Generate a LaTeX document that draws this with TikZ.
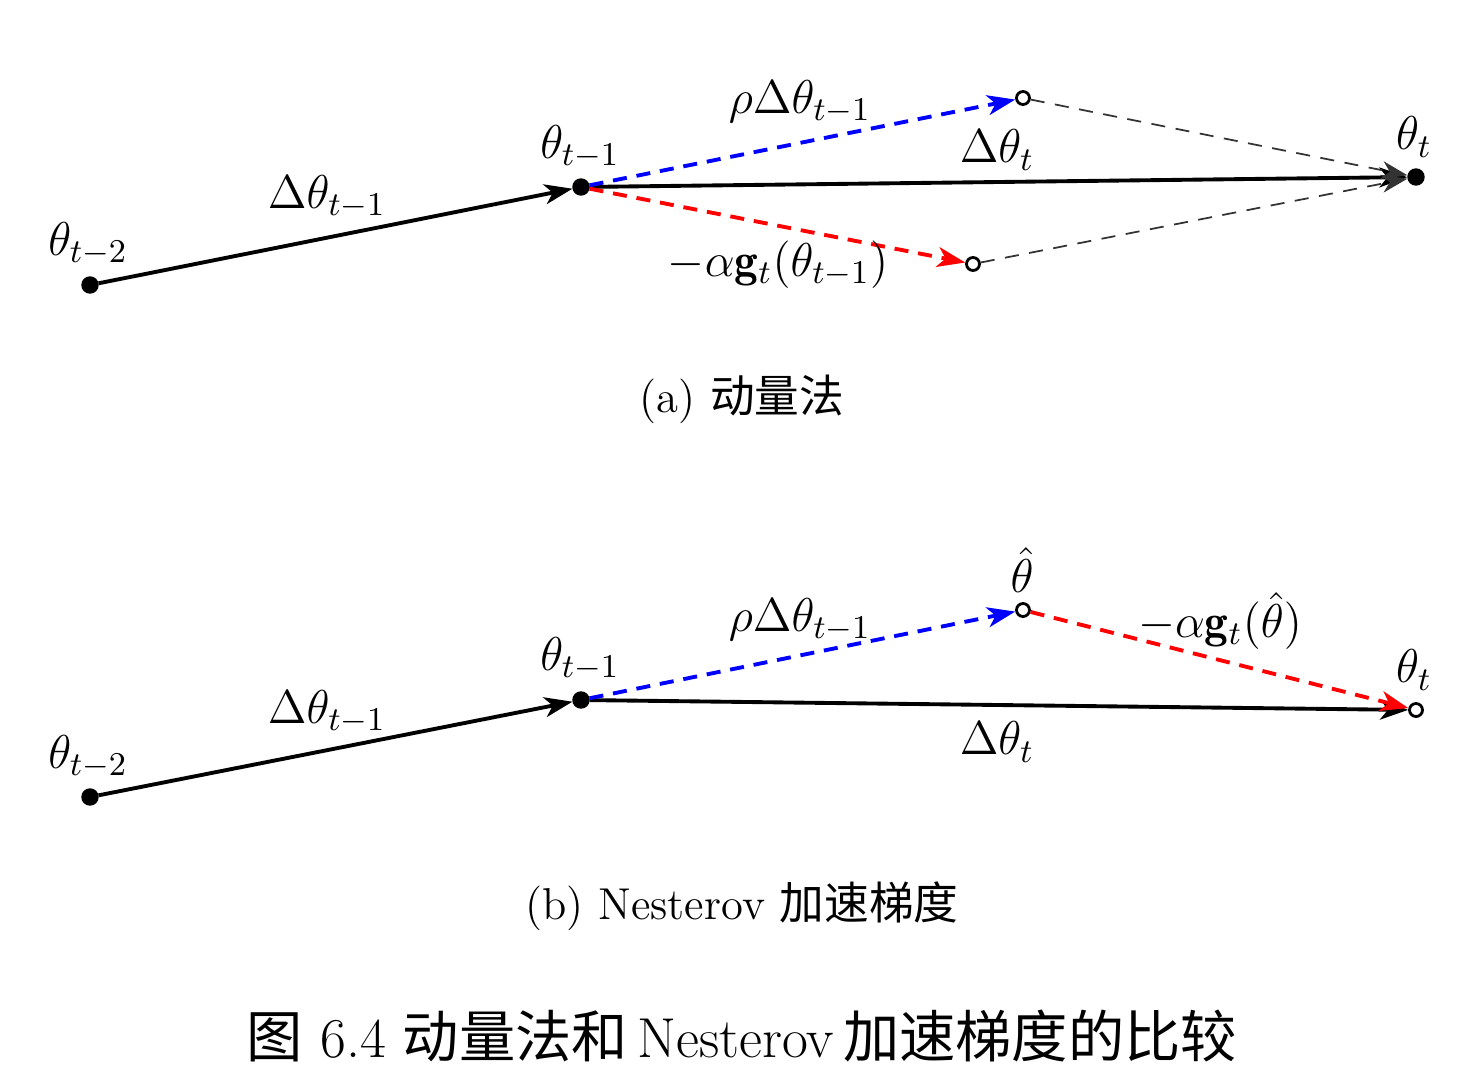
\RequirePackage{fix-cm}
\documentclass[tikz,border=0pt]{standalone}
\usepackage{fontspec}
\newfontfamily\cjk{Noto Sans CJK SC}
\usetikzlibrary{arrows.meta}
\tikzset{
  ptdot/.style={circle,fill=black,draw=black,inner sep=0pt,minimum size=0.16cm},
  hole/.style={circle,fill=white,draw=black,line width=0.8pt,inner sep=0pt,minimum size=0.13cm},
  lbl/.style={inner sep=0pt,font=\fontsize{13.5}{16}\selectfont},
  subcap/.style={inner sep=0pt,font=\fontsize{12.7}{15}\selectfont},
  bigcap/.style={inner sep=0pt,font=\fontsize{16}{20}\selectfont},
  mainarr/.style={line width=1.1pt,-{Stealth[length=0.28cm,width=0.2cm,inset=0.08cm]}},
  bluearr/.style={line width=1.1pt,blue,dash pattern=on 4pt off 2.8pt,-{Stealth[length=0.28cm,width=0.2cm,inset=0.08cm]}},
  redarr/.style={line width=1.1pt,red,dash pattern=on 4pt off 2.8pt,-{Stealth[length=0.28cm,width=0.2cm,inset=0.08cm]}},
  grayarr/.style={line width=0.5pt,black!80,dash pattern=on 4pt off 3pt,-{Stealth[length=0.26cm,width=0.18cm,inset=0.08cm]}},
}
\begin{document}
\begin{tikzpicture}[x=0.01cm,y=-0.01cm]
\useasboundingbox (0,0) rectangle (1466,1078);
% ---------- (a) ----------
\node[ptdot] (a0) at (90,285) {};
\node[ptdot] (a1) at (581,187) {};
\node[ptdot] (at) at (1416,177) {};
\node[hole] (au) at (1023,98) {};
\node[hole] (ad) at (973,264) {};
\draw[mainarr] (a0) -- (a1);
\draw[mainarr] (a1) -- (at);
\draw[bluearr] (a1) -- (au);
\draw[redarr] (a1) -- (ad);
\draw[grayarr] (au) -- (at);
\draw[grayarr] (ad) -- (at);
\node[lbl] (la0) at (88,244) {$\theta_{t-2}$};
\node[lbl] (la01) at (327,197) {$\Delta\theta_{t-1}$};
\node[lbl] (la1) at (580,147) {$\theta_{t-1}$};
\node[lbl] (lau) at (800,102) {$\rho\Delta\theta_{t-1}$};
\node[lbl] (lat1) at (997,150) {$\Delta\theta_{t}$};
\node[lbl] (lat) at (1414,137) {$\theta_{t}$};
\node[lbl] (lad) at (778,265) {$-\alpha\mathbf{g}_t(\theta_{t-1})$};
\node[subcap] (capa) at (742,399) {(a) {\cjk 动量法}};
% ---------- (b) ----------
\node[ptdot] (b0) at (90,797) {};
\node[ptdot] (b1) at (581,700) {};
\node[hole] (bh) at (1023,610) {};
\node[hole] (bt) at (1416,710) {};
\draw[mainarr] (b0) -- (b1);
\draw[mainarr] (b1) -- (bt);
\draw[bluearr] (b1) -- (bh);
\draw[redarr] (bh) -- (bt);
\node[lbl] (lb0) at (88,757) {$\theta_{t-2}$};
\node[lbl] (lb01) at (327,712) {$\Delta\theta_{t-1}$};
\node[lbl] (lb1) at (580,659) {$\theta_{t-1}$};
\node[lbl] (lbu) at (800,620) {$\rho\Delta\theta_{t-1}$};
\node[lbl] (lbh) at (1022,570) {$\hat{\theta}$};
\node[lbl] (lbg) at (1220,621) {$-\alpha\mathbf{g}_t(\hat{\theta})$};
\node[lbl] (lbt) at (1414,670) {$\theta_{t}$};
\node[lbl] (lbd) at (997,742) {$\Delta\theta_{t}$};
\node[subcap] (capb) at (742,906) {(b) Nesterov {\cjk 加速梯度}};
% ---------- caption ----------
\node[bigcap] (capm) at (742,1036) {{\cjk 图} 6.4 {\cjk 动量法和}\,Nesterov\,{\cjk 加速梯度的比较}};
\end{tikzpicture}
\end{document}
